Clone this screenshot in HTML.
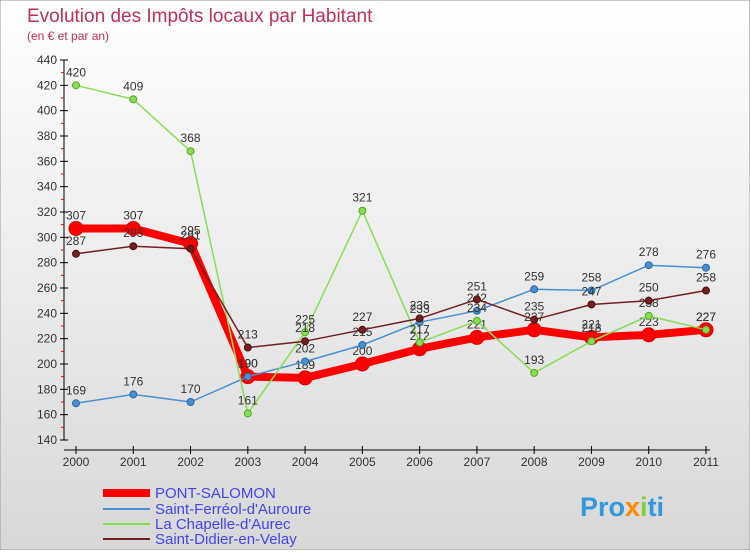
<!DOCTYPE html>
<html><head><meta charset="utf-8"><style>
body{margin:0;width:750px;height:550px;overflow:hidden;font-family:"Liberation Sans",sans-serif}
svg text{font-family:"Liberation Sans",sans-serif}
</style></head><body>
<svg id="c" width="750" height="550">
<defs><linearGradient id="bg" x1="0" y1="0" x2="0" y2="1"><stop offset="0" stop-color="#ffffff"/><stop offset="1" stop-color="#d8d8d8"/></linearGradient></defs>
<rect width="750" height="550" fill="url(#bg)" stroke="#999"/>
<text x="27" y="22" font-size="19" fill="#c0305a">Evolution des Impôts locaux par Habitant</text>
<text x="27" y="40" font-size="12" fill="#c0305a">(en € et par an)</text>
<g id="axes"></g><g id="series"></g>
<g>
<line x1="103" y1="493" x2="150" y2="493" stroke="#ff0000" stroke-width="8"/>
<text x="155" y="498" font-size="15" fill="#4444ee">PONT-SALOMON</text>
<line x1="103" y1="509" x2="150" y2="509" stroke="#4a90d0" stroke-width="2"/>
<text x="155" y="514" font-size="15" fill="#4444ee">Saint-Ferréol-d'Auroure</text>
<line x1="103" y1="524" x2="150" y2="524" stroke="#88dd55" stroke-width="2"/>
<text x="155" y="529" font-size="15" fill="#4444ee">La Chapelle-d'Aurec</text>
<line x1="103" y1="539" x2="150" y2="539" stroke="#702020" stroke-width="2"/>
<text x="155" y="544" font-size="15" fill="#4444ee">Saint-Didier-en-Velay</text>
</g>
<text x="580" y="516" font-size="27" font-weight="bold" fill="#3399dd">Pro<tspan fill="#ff8800">x</tspan><tspan fill="#88cc33">i</tspan>ti</text>
</svg>
<script>
const years=[2000,2001,2002,2003,2004,2005,2006,2007,2008,2009,2010,2011];
const yTicks=[140,160,180,200,220,240,260,280,300,320,340,360,380,400,420,440];
const pont=[307,307,295,190,189,200,212,221,227,221,223,227];
const ferreol=[169,176,170,190,202,215,233,242,259,258,278,276];
const chapelle=[420,409,368,161,225,321,217,234,193,218,238,227];
const didier=[287,293,291,213,218,227,236,251,235,247,250,258];
const NS="http://www.w3.org/2000/svg";
const X=i=>76+i*(706-76)/11;
const Y=v=>440-(v-140)*(380/300);
function mk(t,a,p){const e=document.createElementNS(NS,t);for(const k in a)e.setAttribute(k,a[k]);p.appendChild(e);return e;}
const ax=document.getElementById('axes');
const yl=mk('line',{x1:64,y1:Y(440),x2:64,y2:Y(140),stroke:'#000'},ax);


yTicks.forEach(v=>{
 const t=mk('line',{x1:60,x2:68,y1:Y(v),y2:Y(v),stroke:'#000'},ax);
 
 
 const m=mk('line',{x1:61,x2:64,y1:Y(v+10),y2:Y(v+10),stroke:'#e00'},ax);
 if(v==440)m.remove();
 const l=mk('text',{x:57,y:Y(v)+4,'font-size':12,'text-anchor':'end',fill:'#333'},ax);
 l.textContent=v;
 
 
});
const xl=mk('line',{x1:64,y1:450,x2:710,y2:450,stroke:'#000'},ax);


years.forEach((y,i)=>{
 mk('line',{x1:X(i),x2:X(i),y1:446,y2:454,stroke:'#000'},ax);
 const l=mk('text',{x:X(i),y:466,'font-size':12,'text-anchor':'middle',fill:'#333'},ax);
 l.textContent=y;
 
 
});
const sg=document.getElementById('series');
function draw(data,col,w,r,name,dark){
 const g=mk('g',{},sg);
 
 
 const pl=mk('polyline',{points:data.map((v,i)=>X(i)+','+Y(v)).join(' '),fill:'none',stroke:col,'stroke-width':w,'stroke-linejoin':'round'},g);
 
 
 data.forEach((v,i)=>{
  const c=mk('circle',{cx:X(i),cy:Y(v),r:r,fill:col,stroke:dark,'stroke-width':1},g);
  
  
  const t=mk('text',{x:X(i),y:Y(v)-9,'font-size':12,'text-anchor':'middle',fill:'#333'},g);
  t.textContent=v;
  
  
 });
}
draw(pont,'#ff0000',8,7,'pont-salomon','#d00');
draw(ferreol,'#4a90d0',1.5,3.5,'saint-ferreol','#2a6aa0');
draw(chapelle,'#88dd55',1.5,3.5,'la-chapelle','#55aa22');
draw(didier,'#702020',1.5,3.5,'saint-didier','#501010');
</script>
</body></html>
